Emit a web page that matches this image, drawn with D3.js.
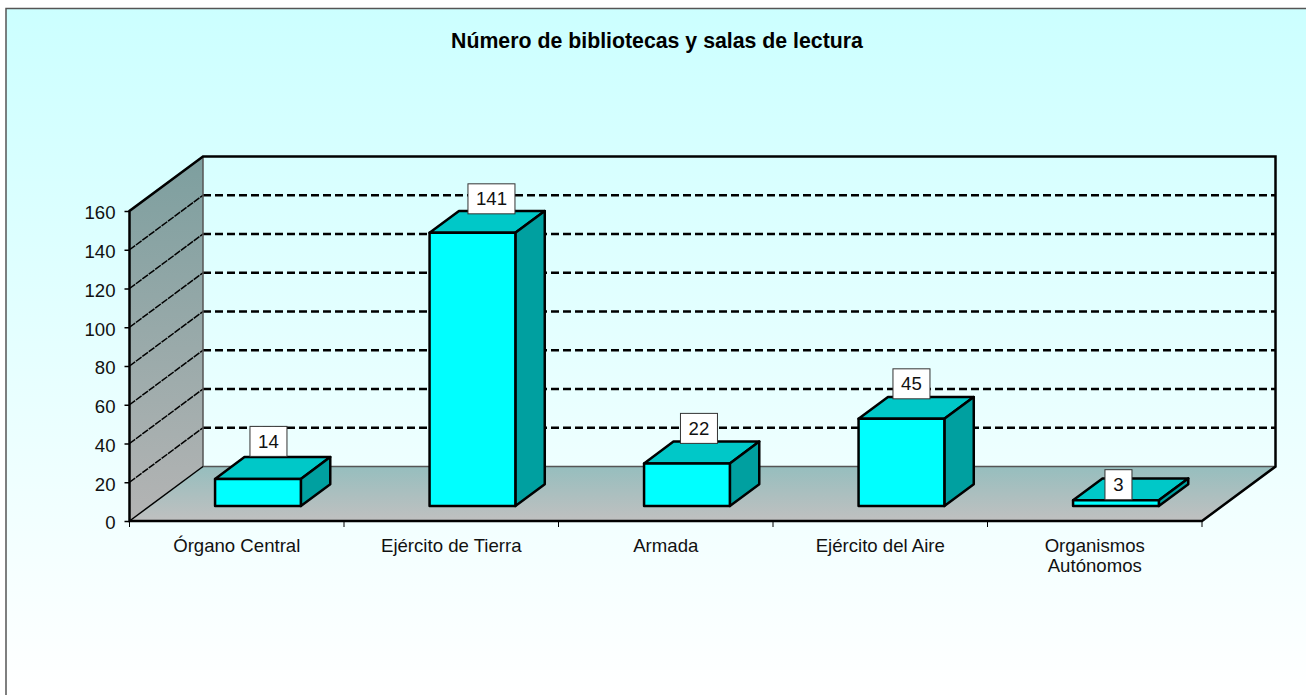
<!doctype html>
<html>
  <head>
    <meta charset="utf-8">
    <script src="https://cdnjs.cloudflare.com/ajax/libs/d3/7.8.5/d3.min.js"></script>
    <style>
      html, body { margin: 0; padding: 0; background: #fff; }
      svg { display: block; }
      text { font-family: "Liberation Sans", Arial, sans-serif; fill: #111; }
      .title { font-size: 21.3px; font-weight: bold; fill: #000; }
      .tick text, .cat, .val { font-size: 18.6px; }
      line.grid { stroke: #000; stroke-width: 2.4; stroke-dasharray: 8 4; }
      line.griddiag { stroke: #000; stroke-width: 1.5; stroke-dasharray: 7 1; }
      path.bar { stroke: #000; stroke-width: 2.5; stroke-linejoin: round; }
      rect.valbox { fill: #fff; stroke: #333; stroke-width: 1; }
    </style>
  </head>
  <body>
    <svg width="1306" height="695"></svg>
    <script>
      var categories = [["Órgano Central"], ["Ejército de Tierra"], ["Armada"], ["Ejército del Aire"], ["Organismos", "Autónomos"]];
      var values = [14, 141, 22, 45, 3];
      var yTicks = [0, 20, 40, 60, 80, 100, 120, 140, 160];
      var titleText = "Número de bibliotecas y salas de lectura";

      // hand placed data labels in the original, offset from the bar's front top centre
      var labelShiftX = [11.5, 20, 13, 11, 3.5];
      var labelShiftY = [-37.5, -34, -35, -35, -15.5];

      var svg = d3.select("svg");
      var defs = svg.append("defs");

      function gradient(id, from, to) {
        var g = defs.append("linearGradient").attr("id", id)
          .attr("x1", 0).attr("y1", 0).attr("x2", 0).attr("y2", 1);
        g.append("stop").attr("offset", "0%").attr("stop-color", from);
        g.append("stop").attr("offset", "100%").attr("stop-color", to);
      }
      gradient("bg", "#CCFFFF", "#FFFFFF");
      gradient("wall", "#7D9F9F", "#B4B4B4");
      gradient("floor", "#96BEBE", "#C0C0C0");

      // chart area
      svg.append("rect").attr("x", 6).attr("y", 8.5).attr("width", 1300).attr("height", 687)
        .attr("fill", "url(#bg)");
      svg.append("path").attr("d", "M6,695V8.5H1306")
        .attr("fill", "none").attr("stroke", "#555").attr("stroke-width", 1.5);

      svg.append("text").attr("class", "title")
        .attr("x", 657).attr("y", 48).attr("text-anchor", "middle").text(titleText);

      var depthX = 73.5, depthY = -54.5;
      var y = d3.scaleLinear().domain([0, 160]).range([521, 211]);
      var x = d3.scaleBand().domain(d3.range(values.length)).range([129.5, 1202]).paddingInner(0).paddingOuter(0);

      var x0 = x.range()[0], x1 = x.range()[1];
      var yTop = y(160), yBase = y(0);

      // side wall and floor
      svg.append("path")
        .attr("d", "M" + x0 + "," + yBase + "V" + yTop + "L" + (x0 + depthX) + "," + (yTop + depthY) + "V" + (yBase + depthY) + "Z")
        .attr("fill", "url(#wall)");
      svg.append("path")
        .attr("d", "M" + x0 + "," + yBase + "H" + x1 + "L" + (x1 + depthX) + "," + (yBase + depthY) + "H" + (x0 + depthX) + "Z")
        .attr("fill", "url(#floor)");

      // gridlines, back wall then side wall
      svg.selectAll("line.grid").data(yTicks.slice(1, -1)).enter().append("line")
        .attr("class", "grid")
        .attr("x1", x0 + depthX).attr("x2", x1 + depthX)
        .attr("y1", d => y(d) + depthY).attr("y2", d => y(d) + depthY);
      svg.selectAll("line.griddiag").data(yTicks.slice(1, -1)).enter().append("line")
        .attr("class", "griddiag")
        .attr("x1", x0).attr("x2", x0 + depthX)
        .attr("y1", d => y(d)).attr("y2", d => y(d) + depthY);

      // frame
      var frame = svg.append("g").attr("fill", "none").attr("stroke", "#000");
      frame.append("path").attr("stroke-width", 1.5).attr("stroke", "#555")
        .attr("d", "M" + (x0 + depthX) + "," + (yTop + depthY) + "V" + (yBase + depthY) + "H" + (x1 + depthX));
      frame.append("path").attr("stroke-width", 1.5)
        .attr("d", "M" + x0 + "," + yBase + "L" + (x0 + depthX) + "," + (yBase + depthY));
      frame.append("path").attr("stroke-width", 2.5)
        .attr("d", "M" + x0 + "," + yBase + "V" + yTop + "L" + (x0 + depthX) + "," + (yTop + depthY) + "H" + (x1 + depthX) + "V" + (yBase + depthY) + "L" + x1 + "," + yBase + "Z");

      // bars stand inside the floor depth
      var barStart = 0.275, barDepth = 0.4;
      var bandPad = 0.3;
      var barW = x.bandwidth() * (1 - 2 * bandPad);
      var bdx = depthX * barDepth, bdy = depthY * barDepth;

      var bars = svg.selectAll("g.barg").data(values).enter().append("g").attr("class", "barg")
        .attr("transform", (d, i) => "translate(" + (x(i) + x.bandwidth() * bandPad + depthX * barStart + 1) + "," + (depthY * barStart) + ")");

      bars.append("path").attr("class", "bar").attr("fill", "#00C8C8")
        .attr("d", d => "M0," + y(d) + "l" + bdx + "," + bdy + "h" + barW + "l" + (-bdx) + "," + (-bdy) + "Z");
      bars.append("path").attr("class", "bar").attr("fill", "#00A0A0")
        .attr("d", d => "M" + barW + "," + y(d) + "l" + bdx + "," + bdy + "V" + (y(0) + bdy) + "l" + (-bdx) + "," + (-bdy) + "Z");
      bars.append("path").attr("class", "bar").attr("fill", "#00FFFF")
        .attr("d", d => "M0," + y(d) + "h" + barW + "V" + y(0) + "H0Z");

      // value labels
      var labels = bars.append("g")
        .attr("transform", (d, i) => "translate(" + (barW / 2 + labelShiftX[i] - 1) + "," + (y(d) + labelShiftY[i]) + ")");
      labels.append("rect").attr("class", "valbox")
        .attr("x", d => d > 99 ? -23.5 : (d > 9 ? -18.5 : -13.5))
        .attr("width", d => d > 99 ? 47 : (d > 9 ? 37 : 27))
        .attr("y", -15).attr("height", 30);
      labels.append("text").attr("class", "val").attr("text-anchor", "middle").attr("y", 6.5).text(d => d);

      // y axis
      var yAxis = svg.append("g").attr("transform", "translate(" + x0 + ",0)")
        .call(d3.axisLeft(y).tickValues(yTicks).tickSize(5).tickPadding(9));
      yAxis.select(".domain").remove();
      yAxis.selectAll(".tick line").attr("stroke", "#000").attr("stroke-width", 1.5);
      yAxis.selectAll(".tick text").attr("dy", "0.42em");

      // x axis, ticks sit on the category boundaries
      var xTicks = d3.range(values.length + 1).map(i => x0 + i * x.bandwidth());
      svg.selectAll("line.xtick").data(xTicks).enter().append("line").attr("class", "xtick")
        .attr("x1", d => d).attr("x2", d => d).attr("y1", yBase).attr("y2", yBase + 6)
        .attr("stroke", "#000");

      svg.selectAll("text.cat").data(categories).enter().append("text")
        .attr("class", "cat").attr("text-anchor", "middle")
        .attr("transform", (d, i) => "translate(" + (x(i) + x.bandwidth() / 2) + ",552)")
        .selectAll("tspan").data(d => d).enter().append("tspan")
        .attr("x", 0).attr("y", (d, i) => i * 20).text(d => d);
    </script>
  </body>
</html>
